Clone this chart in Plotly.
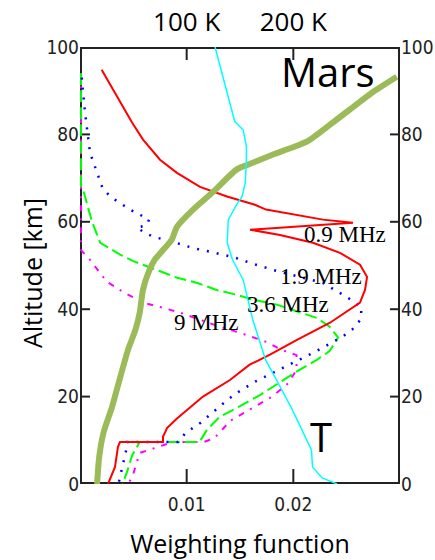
import plotly.graph_objects as go

# ---- data (altitude in km, weighting function) ----
red_alt = [94.8, 90.3, 82.7, 78.8, 74.2, 71.2, 68.0, 65.8, 63.9, 62.8, 61.6, 60.5, 59.8,
           58.2, 57.0, 55.2, 52.9, 50.2, 47.4, 44.4, 41.5, 36.9, 33.0, 29.6, 27.3, 23.8,
           20.0, 15.0, 12.8, 10.8, 9.6, 9.6, 8.5, 3.9, 0.0]
red_w = [0.00203, 0.00309, 0.00488, 0.00591, 0.0075, 0.00909, 0.01125, 0.01378, 0.0164,
         0.01744, 0.02034, 0.02278, 0.02559, 0.01594, 0.01875, 0.02184, 0.02437, 0.02625,
         0.02691, 0.02672, 0.02625, 0.02344, 0.02034, 0.01781, 0.0159, 0.01406, 0.01153,
         0.00909, 0.00816, 0.00778, 0.00778, 0.00375, 0.00356, 0.00328, 0.00263]

blue_alt = [93.0, 85.0, 75.8, 67.4, 65.5, 64.0, 62.8, 61.6, 60.5, 59.3, 58.6, 57.5, 56.6,
            55.4, 54.0, 52.9, 51.8, 50.4, 49.0, 46.0, 42.8, 40.5, 37.6, 35.3, 33.7, 30.2,
            28.0, 25.7, 23.4, 21.0, 19.2, 14.0, 11.7, 9.6, 9.6, 8.5, 3.2, 0.0]
blue_w = [0.00016, 0.00047, 0.00094, 0.00216, 0.0030, 0.00394, 0.00469, 0.00562, 0.00647,
          0.00628, 0.00534, 0.00609, 0.00684, 0.00872, 0.01059, 0.01266, 0.01453, 0.01622,
          0.01809, 0.02278, 0.0250, 0.0264, 0.0263, 0.0255, 0.0246, 0.0220, 0.0202, 0.0183,
          0.0164, 0.0148, 0.0138, 0.0113, 0.0099, 0.0092, 0.0044, 0.0044, 0.0039, 0.0036]

green_alt = [94.0, 68.0, 67.4, 60.0, 55.2, 52.5, 51.0, 48.6, 47.2, 46.0, 44.4, 43.3, 42.2,
             41.0, 38.0, 36.0, 33.5, 30.4, 28.4, 25.4, 23.4, 20.4, 17.8, 15.4, 12.4, 10.0,
             9.6, 9.6, 6.6, 2.7, 0.0]
green_w = [0.0001, 0.0001, 0.00028, 0.00113, 0.0019, 0.00375, 0.0050, 0.0075, 0.0091, 0.0110,
           0.0128, 0.0147, 0.0162, 0.0185, 0.0222, 0.0234, 0.0242, 0.0234, 0.0222, 0.0201,
           0.0188, 0.0169, 0.0150, 0.0131, 0.0119, 0.0113, 0.0112, 0.0056, 0.0049, 0.0044,
           0.0040]

magenta_alt = [94.0, 53.5, 51.3, 46.3, 44.0, 41.5, 40.3, 39.2, 36.0, 34.6, 32.5, 30.7, 29.5,
               26.1, 23.0, 20.0, 17.6, 14.5, 10.5, 9.6, 9.6, 7.1, 1.6, 0.0]
magenta_w = [0.0001, 0.0001, 0.00094, 0.0025, 0.0040, 0.0059, 0.0078, 0.0094, 0.0131, 0.0150,
             0.0175, 0.0189, 0.0203, 0.0203, 0.0195, 0.0180, 0.0163, 0.0141, 0.0126, 0.0116,
             0.0087, 0.0056, 0.0049, 0.0045]

olive_alt = [0, 6.2, 11.7, 17.6, 23.8, 30.7, 35.3, 39.2, 44.4, 48.3, 51.3, 53.6, 55.9, 58.9,
             62.8, 66.9, 72.0, 73.5, 75.4, 78.4, 81.8, 85.7, 89.6, 93.2]
olive_w = [0.0016, 0.0018, 0.0022, 0.0030, 0.0037, 0.0045, 0.0052, 0.0056, 0.0059, 0.0064,
           0.0070, 0.0078, 0.0086, 0.0091, 0.0106, 0.0125, 0.0147, 0.0162, 0.0181, 0.0213,
           0.0232, 0.0253, 0.0274, 0.0297]

temp_alt = [100, 83, 81, 77.2, 74.2, 69.0, 65.8, 64.4, 60.5, 55.2, 51.3, 46.7, 37.6, 28.4,
            23.0, 17.0, 12.4, 7.8, 3.9, 1.4, 0]
temp_K = [126.6, 145, 153, 156, 156, 155, 152, 148, 139, 138, 143, 153, 162, 174, 186, 199,
          208, 217, 218, 227, 241]

x_range = [0, 0.03]
t_range = [0, 300]
y_range = [0, 100]
y_ticks = [0, 20, 40, 60, 80, 100]
x_ticks = [0.01, 0.02]
x_ticktext = ["0.01", "0.02"]
t_ticks = [100, 200]
t_ticktext = ["100 K", "200 K"]

freq_labels = ["0.9 MHz", "1.9 MHz", "3.6 MHz", "9 MHz"]
freq_label_x = [0.0208, 0.01856, 0.01547, 0.00863]
freq_label_y = [57.0, 47.4, 41.0, 36.9]

W, H = 435, 560
M = dict(l=80, r=35, t=47, b=76)
plot_w = W - M["l"] - M["r"]
plot_h = H - M["t"] - M["b"]
x_per_px = (x_range[1] - x_range[0]) / plot_w
y_per_px = (y_range[1] - y_range[0]) / plot_h
t_to_x = (x_range[1] - x_range[0]) / (t_range[1] - t_range[0])

AXC = "#222222"

fig = go.Figure()

# --- axis frame and inward tick marks (drawn as line traces, under the curves) ---
fx = [x_range[0], x_range[1], x_range[1], x_range[0], x_range[0]]
fy = [y_range[0], y_range[0], y_range[1], y_range[1], y_range[0]]
fig.add_trace(go.Scatter(x=fx, y=fy, mode="lines", line=dict(color=AXC, width=4),
                         hoverinfo="skip"))
tx, ty = [], []
for v in x_ticks:  # bottom ticks, 15 px
    tx += [v, v, None]
    ty += [y_range[0], y_range[0] + 15 * y_per_px, None]
for v in t_ticks:  # top ticks, 13 px
    xv = (v - t_range[0]) * t_to_x + x_range[0]
    tx += [xv, xv, None]
    ty += [y_range[1], y_range[1] - 13 * y_per_px, None]
for v in y_ticks[1:-1]:  # left and right ticks, 10 px
    tx += [x_range[0], x_range[0] + 10 * x_per_px, None]
    ty += [v, v, None]
    tx += [x_range[1], x_range[1] - 10 * x_per_px, None]
    ty += [v, v, None]
fig.add_trace(go.Scatter(x=tx, y=ty, mode="lines", line=dict(color=AXC, width=2),
                         hoverinfo="skip", connectgaps=False))

fig.add_trace(go.Scatter(x=magenta_w, y=magenta_alt, mode="lines",
                         line=dict(color="#ff00ff", width=2, dash="6px,7px,2px,7px")))
fig.add_trace(go.Scatter(x=green_w, y=green_alt, mode="lines",
                         line=dict(color="#00ff00", width=2, dash="12px,5px")))
fig.add_trace(go.Scatter(x=blue_w, y=blue_alt, mode="lines",
                         line=dict(color="#0000ff", width=2.5, dash="2px,8px")))
fig.add_trace(go.Scatter(x=red_w, y=red_alt, mode="lines",
                         line=dict(color="#ff0000", width=2)))
fig.add_trace(go.Scatter(x=olive_w, y=olive_alt, mode="lines", yaxis="y2",
                         line=dict(color="#9bbb59", width=6, shape="spline", smoothing=0.6),
                         hoverinfo="skip"))
fig.add_trace(go.Scatter(x=temp_K, y=temp_alt, mode="lines", xaxis="x2",
                         line=dict(color="#00ffff", width=1.5)))

tickfont = dict(family="DejaVu Sans Condensed, Liberation Sans Narrow, sans-serif",
                size=19, color="#222")
axbase = dict(showline=False, showgrid=False, zeroline=False, automargin=False)
pad_ticks = dict(ticks="outside", tickcolor="rgba(0,0,0,0)", tickwidth=1)

fig.update_layout(
    width=W, height=H,
    margin=M,
    paper_bgcolor="white", plot_bgcolor="white",
    showlegend=False,
    xaxis=dict(range=x_range, tickvals=x_ticks, ticktext=x_ticktext, tickfont=tickfont,
               ticklen=3, **pad_ticks,
               title=dict(text="Weighting function", standoff=24,
                          font=dict(family="Open Sans", size=25, color="black")),
               **axbase),
    xaxis2=dict(range=t_range, overlaying="x", side="top", anchor="y",
                tickvals=t_ticks, ticktext=t_ticktext, ticklen=5, **pad_ticks,
                tickfont=dict(family="Open Sans", size=26, color="black"), **axbase),
    yaxis=dict(range=y_range, tickvals=y_ticks, tickfont=tickfont, ticks="", **axbase),
    yaxis2=dict(range=y_range, overlaying="y", side="right", anchor="x", tickvals=y_ticks,
                tickfont=tickfont, ticks="", **axbase),
)

fig.add_annotation(x=(32 - M["l"]) / plot_w, y=(H - M["b"] - 273) / plot_h, xref="paper",
                   yref="paper", text="Altitude [km]", showarrow=False, textangle=-90,
                   xanchor="center", yanchor="middle",
                   font=dict(family="Open Sans", size=25, color="black"))

for txt, xx, yy in zip(freq_labels, freq_label_x, freq_label_y):
    fig.add_annotation(x=xx, y=yy, xref="x", yref="y", text=txt, showarrow=False,
                       xanchor="left", yanchor="middle",
                       font=dict(family="Liberation Serif", size=23, color="black"))

fig.add_annotation(x=0.01866, y=94.5, xref="x", yref="y", text="Mars", showarrow=False,
                   xanchor="left", yanchor="middle",
                   font=dict(family="Open Sans", size=40, color="black"))
fig.add_annotation(x=0.0214, y=10.8, xref="x", yref="y", text="T", showarrow=False,
                   xanchor="left", yanchor="middle",
                   font=dict(family="Open Sans", size=40, color="black"))

fig.write_html("out.html")
